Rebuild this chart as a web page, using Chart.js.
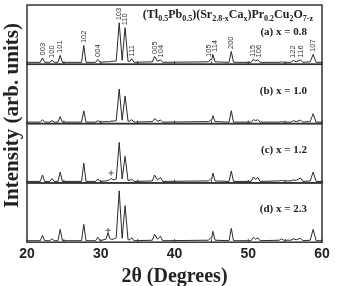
<!DOCTYPE html>
<html>
<head>
<meta charset="utf-8">
<script src="https://cdn.jsdelivr.net/npm/chart.js@4.4.0/dist/chart.umd.min.js"></script>
<style>
  html, body { margin: 0; padding: 0; background: #fff; }
  #wrap { width: 337px; height: 286px; }
</style>
</head>
<body>
<div id="wrap"><canvas id="xrdChart"></canvas></div>
<script>
// 2theta positions shared by the four patterns
var angles = [20,
  21.8, 22.1, 22.4,  23.1, 23.4, 23.7,  24.2, 24.5, 24.8,
  27.4, 27.7, 28.0,  29.3, 29.6, 29.9,
  30.7, 31.0, 31.2, 31.4, 31.7,
  32.1, 32.5, 32.9, 33.3, 33.7,  33.95, 34.2, 34.5,
  37.0, 37.3, 37.7, 38.1, 38.4,
  44.6, 44.9, 45.05, 45.2, 45.5,  47.4, 47.7, 48.0,
  50.4, 50.7, 51.0, 51.3, 51.6,  54.2, 54.5, 54.8,
  55.8, 56.1, 56.5, 57.1, 57.4,  58.4, 58.8, 59.2,
  60];

// intensities (arb. units), one list per sample
var seriesA = [2,
  2, 6.5, 2,  2, 4, 2,  2, 9, 2,
  2, 19, 2,  2, 5, 2,
  2.5, 2.5, 2.5, 3, 3,
  3.5, 42, 4, 37, 3,  3, 5.5, 2,
  2.5, 8, 3, 4.5, 2,
  2.5, 5, 4.5, 10, 2.5,  2, 13, 2,
  2, 5, 3.5, 4.5, 2,  2, 2.5, 2,
  2, 4, 2.5, 4.5, 2,  2.5, 10, 2,
  2];
var seriesB = [1.5,
  1.5, 4, 1.5,  1.5, 3, 1.5,  1.5, 7, 1.5,
  1.5, 13, 1.5,  1.5, 3, 1.5,
  2, 2, 2, 2.5, 2.5,
  3, 35, 3.5, 28, 2.5,  2.5, 4, 1.5,
  2, 5, 2.5, 3.5, 1.5,
  2, 3.5, 3.5, 8, 2,  1.5, 13, 1.5,
  1.5, 4, 3, 4, 1.5,  1.5, 2, 1.5,
  1.5, 3, 2, 3.5, 1.5,  2, 10, 1.5,
  1.5];
var seriesC = [1.5,
  1.5, 8, 1.5,  1.5, 4.5, 1.5,  1.5, 11, 1.5,
  1.5, 20, 1.5,  1.5, 4, 1.5,
  2, 2.5, 3, 4.5, 3,
  4, 41, 4, 27, 2.5,  2.5, 4, 1.5,
  2, 8, 3, 5.5, 1.5,
  2, 4, 4, 10, 2,  1.5, 12, 1.5,
  1.5, 6, 3.5, 5.5, 1.5,  2, 2.5, 2,
  2, 3, 2.5, 5, 1.5,  2, 11, 1.5,
  1.5];
var seriesD = [1.5,
  1.5, 7, 1.5,  1.5, 3.5, 1.5,  1.5, 13, 1.5,
  1.5, 18, 1.5,  1.5, 5, 1.5,
  3, 9.5, 4, 3, 3,
  4.5, 52, 4, 37, 2.5,  2.5, 4.5, 1.5,
  2, 8, 3, 6, 1.5,
  2, 4.5, 4, 11, 2,  1.5, 14, 1.5,
  1.5, 5, 3, 4.5, 1.5,  2, 3.5, 2,
  2, 3.5, 2.5, 4, 1.5,  2, 13, 1.5,
  1.5];

var panelNames = ['(a) x = 0.8', '(b) x = 1.0', '(c) x = 1.2', '(d) x = 2.3'];

// Miller indices marked on pattern (a)
var hklLabels = ['003', '100', '101', '102', '004', '103', '110', '111', '005', '104',
  '105', '114', '200', '115', '106', '122', '116', '107'];
var hklAngles = [22.1, 23.4, 24.5, 27.7, 29.6, 32.5, 33.3, 34.2, 37.3, 38.1,
  44.9, 45.2, 47.7, 50.7, 51.3, 56.1, 57.1, 58.8];

// impurity marks (+) on patterns (c) and (d)
var impurityC = [{ x: 31.4, y: 10 }];
var impurityD = [{ x: 31.0, y: 12 }];

var xTicks = [20, 30, 40, 50, 60];
var panelAxes = ['yA', 'yB', 'yC', 'yD'];

function toPoints(values) {
  return angles.map(function (a, i) { return { x: a, y: values[i] }; });
}

var datasets = [seriesA, seriesB, seriesC, seriesD].map(function (v, i) {
  return {
    data: toPoints(v),
    yAxisID: panelAxes[i],
    borderColor: '#2a2a2a',
    borderWidth: 1,
    pointRadius: 0,
    tension: 0,
    fill: false
  };
});
datasets.push({ data: impurityC, yAxisID: 'yC', showLine: false, pointStyle: 'cross',
  pointRadius: 2.5, borderColor: '#555', borderWidth: 1 });
datasets.push({ data: impurityD, yAxisID: 'yD', showLine: false, pointStyle: 'cross',
  pointRadius: 2.5, borderColor: '#555', borderWidth: 1 });

function panelScale(w) {
  return { type: 'linear', display: false, stack: 'panels', stackWeight: 1, weight: w, min: 0, max: 60 };
}

var framePlugin = {
  id: 'frame',
  afterDatasetsDraw: function (chart) {
    var ctx = chart.ctx, area = chart.chartArea, xs = chart.scales.x;
    ctx.save();
    ctx.strokeStyle = '#333';
    ctx.fillStyle = '#222';

    panelAxes.forEach(function (id, i) {
      var s = chart.scales[id];
      ctx.lineWidth = 1.5;
      ctx.strokeRect(area.left, s.top, area.right - area.left, s.bottom - s.top);
      ctx.lineWidth = 1;
      for (var a = 20; a <= 60; a += 5) {
        var px = xs.getPixelForValue(a);
        ctx.beginPath();
        ctx.moveTo(px, s.bottom);
        ctx.lineTo(px, s.bottom - 3);
        ctx.stroke();
      }
      ctx.font = 'bold 11px "Liberation Serif", serif';
      ctx.textAlign = 'right';
      ctx.textBaseline = 'middle';
      ctx.fillText(panelNames[i], area.right - 15, s.getPixelForValue(33));
    });

    // Miller indices, vertical text above the peaks of (a)
    var ya = chart.scales.yA;
    var marks = hklAngles.map(function (ang) {
      var top = 0;
      angles.forEach(function (a, j) {
        if (Math.abs(a - ang) < 0.2 && seriesA[j] > top) top = seriesA[j];
      });
      return { px: xs.getPixelForValue(ang), top: top };
    });
    // spread labels that sit on top of each other
    for (var k = 1; k < marks.length; k++) {
      var gap = marks[k].px - marks[k - 1].px;
      if (gap < 6) {
        marks[k - 1].px -= (6 - gap) / 2;
        marks[k].px += (6 - gap) / 2;
      }
    }
    ctx.font = '7.5px "Liberation Sans", Arial, sans-serif';
    ctx.fillStyle = '#333';
    marks.forEach(function (m, i) {
      ctx.save();
      ctx.translate(m.px, ya.getPixelForValue(m.top + 2.5));
      ctx.rotate(-Math.PI / 2);
      ctx.textAlign = 'left';
      ctx.textBaseline = 'middle';
      ctx.fillText(hklLabels[i], 0, 0);
      ctx.restore();
    });

    // compound formula with subscripts
    var parts = [['(Tl', 0], ['0.5', 1], ['Pb', 0], ['0.5', 1], [')(Sr', 0], ['2.8-x', 1],
      ['Ca', 0], ['x', 1], [')Pr', 0], ['0.2', 1], ['Cu', 0], ['2', 1], ['O', 0], ['7-z', 1]];
    var mainFont = 'bold 12px "Liberation Serif", serif';
    var subFont = 'bold 8px "Liberation Serif", serif';
    var total = 0;
    parts.forEach(function (p) {
      ctx.font = p[1] ? subFont : mainFont;
      total += ctx.measureText(p[0]).width;
    });
    var fx = area.right - 9 - total;
    var fy = ya.top + 13;
    ctx.fillStyle = '#222';
    ctx.textAlign = 'left';
    ctx.textBaseline = 'alphabetic';
    parts.forEach(function (p) {
      ctx.font = p[1] ? subFont : mainFont;
      ctx.fillText(p[0], fx, p[1] ? fy + 3 : fy);
      fx += ctx.measureText(p[0]).width;
    });

    // y axis title spanning all panels
    ctx.save();
    ctx.translate(13, (area.top + area.bottom) / 2 - 8);
    ctx.rotate(-Math.PI / 2);
    ctx.font = 'bold 21px "Liberation Serif", serif';
    ctx.textAlign = 'center';
    ctx.textBaseline = 'middle';
    ctx.fillText('Intensity (arb. units)', 0, 0);
    ctx.restore();

    ctx.restore();
  }
};

new Chart(document.getElementById('xrdChart'), {
  type: 'line',
  data: { datasets: datasets },
  options: {
    responsive: true,
    maintainAspectRatio: false,
    animation: false,
    layout: { padding: { left: 27, right: 15, top: 3, bottom: 0 } },
    plugins: { legend: { display: false }, tooltip: { enabled: false } },
    scales: {
      x: {
        type: 'linear', min: 20, max: 60,
        afterBuildTicks: function (scale) {
          scale.ticks = xTicks.map(function (v) { return { value: v }; });
        },
        grid: { display: false, drawTicks: false },
        border: { display: false },
        ticks: { color: '#222', padding: 4, maxRotation: 0,
          font: { family: '"Liberation Sans", Arial, sans-serif', size: 14, weight: 'bold' } },
        title: { display: true, text: '2θ (Degrees)', color: '#222', padding: { top: 0, bottom: 0 },
          font: { family: '"Liberation Serif", serif', size: 20, weight: 'bold', lineHeight: 0.95 } }
      },
      yA: panelScale(4),
      yB: panelScale(3),
      yC: panelScale(2),
      yD: panelScale(1)
    }
  },
  plugins: [framePlugin]
});
</script>
</body>
</html>
